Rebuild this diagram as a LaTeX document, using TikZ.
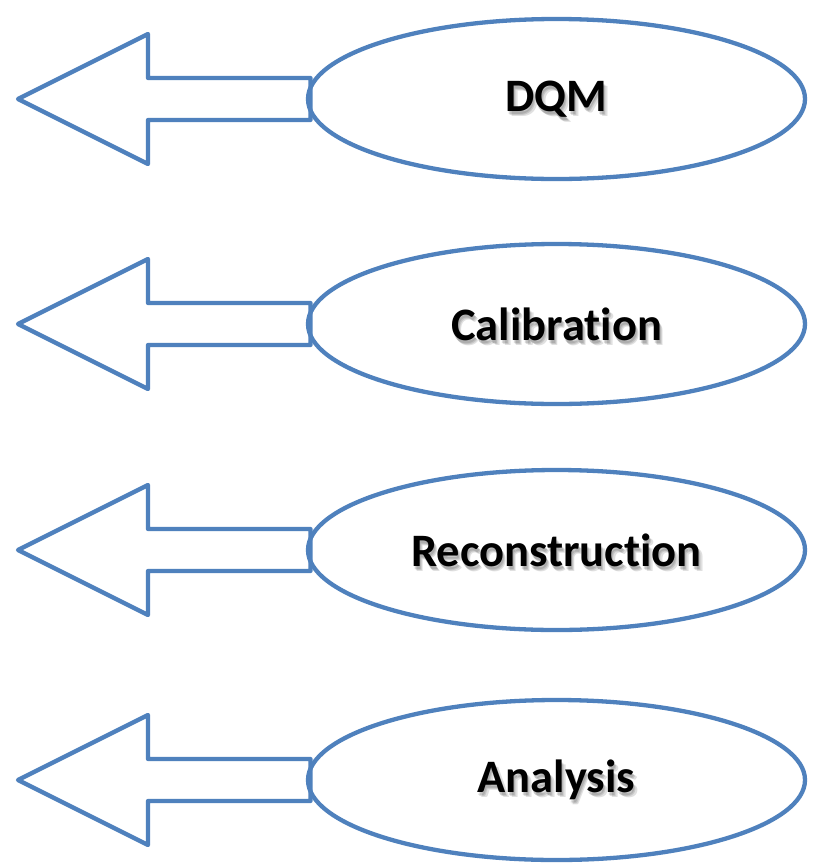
\documentclass[tikz,border=0pt]{standalone}
\usepackage{fontspec}
\setmainfont[Ligatures=NoCommon]{Carlito}
\usetikzlibrary{shapes.geometric,calc}
\definecolor{obl}{HTML}{4F81BD}
\begin{document}
\begin{tikzpicture}[x=1pt,y=-1pt,
  stage/.style={ellipse, draw=obl, line width=4.3pt, minimum width=497pt, minimum height=160pt, inner sep=0pt},
  lbl/.style={font=\bfseries\fontsize{46.5}{50}\selectfont, inner sep=0pt},
  shadowlbl/.style={lbl, text=black, opacity=0.12},
  larrow/.style={draw=obl, line width=4.3pt, line join=round, fill=white}]
\useasboundingbox (0,0) rectangle (815,868);
\foreach \y/\t/\n in {99/DQM/dqm, 324/Calibration/cal, 550/Reconstruction/rec, 780/Analysis/ana} {
  \coordinate (\n-c) at (556.5,\y);
  \coordinate (\n-tip) at (18,\y);
  \draw[larrow] ($(\n-c)+(-246,-21)$) -- ($(\n-c)+(-408.5,-21)$) -- ($(\n-c)+(-408.5,-65)$)
     -- (\n-tip) -- ($(\n-c)+(-408.5,65)$) -- ($(\n-c)+(-408.5,21)$) -- ($(\n-c)+(-246,21)$) -- cycle;
  \node[stage] (\n) at (\n-c) {};
  \node[shadowlbl] (\n-s1) at ($(\n-c)+(2,4)$) {\t};
  \node[shadowlbl] (\n-s2) at ($(\n-c)+(3.5,5)$) {\t};
  \node[shadowlbl] (\n-s3) at ($(\n-c)+(1,3)$) {\t};
  \node[lbl] (\n-t) at (\n-c) {\t};
}
\end{tikzpicture}
\end{document}
